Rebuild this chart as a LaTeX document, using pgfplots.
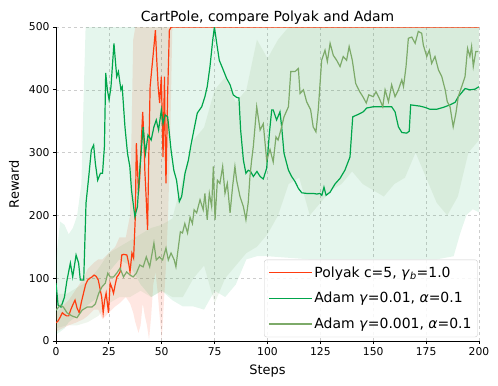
\documentclass[border=0pt]{standalone}
\usepackage{fontspec}
\setmainfont{DejaVu Sans}
\usepackage{pgfplots}
\pgfplotsset{compat=1.18}
\usepgfplotslibrary{fillbetween}

\definecolor{polyak}{RGB}{255,60,15}
\definecolor{adamA}{RGB}{0,165,75}
\definecolor{adamB}{RGB}{125,170,105}
\definecolor{gridc}{RGB}{205,205,205}

% Polyak c=5 mean
\pgfplotstableread{
x y
0 29
1 32
2 38
3 45
4 42
5 40
6 40
7 50
8 58
9 65
10 52
11 45
12 62
13 76
14 90
15 97
16 100
17 102
18 105
19 103
20 97
21 80
21.6 70
22.3 45
23 65
23.7 76
24.3 60
24.8 45
25.6 92
26.4 85
27.2 76
28 90
28.8 102
29.5 105
30.3 110
31.1 137
32 138
33.5 137
34.3 125
35 110
35.9 140
36.7 132
37.5 198
38 315
38.6 270
39 235
39.6 260
40.2 309
41 365
41.6 320
42 272
42.6 230
43.3 177
43.9 300
44.5 405
45.2 430
46 458
46.6 480
47 495
47.6 450
48.3 405
49 379
49.8 421
50.2 360
50.6 293
51.3 421
51.6 330
52 251
52.8 395
53.6 495
54.5 500
200 500
}\polyak

% Polyak band
\pgfplotstableread{
x lo hi
0 15 45
3 20 55
6 25 65
10 30 85
13 35 100
15 40 115
18 50 125
20 50 130
22 35 130
25 45 140
28 55 150
30 60 165
33 70 165
35 60 200
36.5 45 480
37.5 30 500
39 13 500
40 25 500
41 60 500
42 40 500
43 25 500
44 2 500
45 40 500
46 90 500
47 110 500
48 80 500
49 40 500
50 2 500
51 60 500
52 120 500
53 200 500
54 320 500
55 500 500
200 500 500
}\polyakband

% Adam gamma=0.01 mean
\pgfplotstableread{
x y
0 92
1 57
2.4 54
4 70
5.2 97
6.8 124
7.9 102
9.5 137
10.7 124
11.5 97
13.1 97
14.2 220
15.5 262
16.7 304
17.8 312
18.6 283
19.7 256
21 267
22 267
22.9 310
23.5 427
24.3 400
25.1 384
26 405
27.4 474
28.7 421
29.5 429
30.7 400
31.3 405
32.6 341
33.8 299
34.9 278
35.7 240
37.3 198
38.5 214
39.6 272
41.2 341
42.3 299
43.5 328
45 320
46.3 341
47.4 352
48.5 336
49.8 368
50.6 346
51.6 360
52.8 357
54.4 304
55.7 272
57 256
58.3 222
59.4 230
61 267
62.6 288
63.7 310
65.2 336
66.8 363
68.9 373
70.4 389
71.5 405
72.8 437
74.1 479
74.9 500
76 474
77.2 447
78.8 434
80.7 418
82.3 408
83.8 392
85.4 388
86.5 387
87.3 336
88.6 288
89.8 267
90.9 272
92 270
93.3 262
95 270
96.5 262
98 258
99.6 275
100.9 331
102 368
102.7 368
104.3 352
105.9 365
106.7 341
107.8 299
109.9 272
111.4 262
113 254
114.6 243
116.2 236
118.5 235
121.7 235
123.3 234
124.8 235
125.7 232
126.7 245
127.7 232
129.6 237
131.9 250
134.3 259
136.6 272
139 293
140.3 357
143 361
145.3 365
146.9 371
150 373
153.2 373
158.7 373
160.3 365
161.9 341
163.5 332
165.8 331
167 334
167.7 376
172.1 374
174.5 372
176.8 369
180 369
183.1 372
186.3 376
188.7 380
190.2 389
193.4 402
195.7 400
198.1 401
200 405
}\adamA

% Adam gamma=0.01 band
\pgfplotstableread{
x lo hi
0 10 130
2 15 190
4 20 185
6 30 170
8 35 180
10 40 200
12 45 250
13 50 380
14 55 500
16 60 500
20 70 500
25 110 500
30 130 500
35 120 500
40 90 500
45 70 500
50 80 500
55 65 500
60 55 500
65 55 500
70 50 500
75 80 500
80 70 500
85 90 500
90 130 500
95 135 500
100 135 500
120 130 500
150 130 500
180 130 500
188 135 500
191 170 500
194 200 500
197 210 500
200 205 500
}\adamAband

% Adam gamma=0.001 mean
\pgfplotstableread{
x y
0 49
2 57
3.5 54
5.2 45
7.5 40
9.9 37
12.3 49
14.7 54
17 54
18.6 59
20.2 76
21.7 86
23.3 92
24.5 108
25.6 102
27.2 102
28.7 108
30.3 116
31.9 102
33.4 110
35 105
36.5 102
38 108
39.6 121
41.2 118
42.7 134
44.3 118
46.3 156
47.4 129
48.9 134
50.4 129
52 148
53.1 129
54.4 140
55.9 129
56.7 118
57.5 140
58.8 174
59.8 172
60.9 187
62.2 172
63.4 197
64.5 187
65.3 209
66.5 204
68.1 225
69.6 209
70.4 235
71.5 193
72.5 235
73.6 214
74.4 278
75.2 193
76.3 256
77.5 251
78.8 278
79.9 235
81 251
82.3 204
83.5 246
84.6 278
85.4 256
87 230
88.6 214
89.8 193
90.9 221
91.7 262
92.5 288
93.3 310
94.9 373
96.5 336
98 346
99.6 288
101.2 305
102.7 285
104 325
105 320
106.7 341
107.8 357
109.9 373
111 429
113 429
114.6 434
115.4 394
117 400
118.5 381
120.4 368
121.6 341
122.9 333
124 368
125.6 447
127.2 463
128.3 445
129.6 474
131.1 455
132.7 447
134.3 437
135.8 453
137.4 447
138.6 469
140.1 447
141.7 410
143.6 397
145.1 389
146.7 379
147.9 392
150 389
151.3 397
152.9 386
154.5 373
155.6 400
157.2 381
158.7 408
160.3 389
161.9 400
163.5 416
164.3 405
165.5 437
166.6 482
168.2 484
169.8 474
171.3 493
172.9 490
173.7 471
175.3 453
176.5 463
177.6 442
179.2 453
180.8 432
182.4 421
184 400
185 381
186.3 373
187.8 341
189.1 363
190.2 389
191.8 405
193.4 421
194.6 466
195.7 453
196.5 469
197.3 437
198.5 461
199.7 461
}\adamB

% Adam gamma=0.001 band
\pgfplotstableread{
x lo hi
0 20 75
5 25 75
10 25 85
15 30 95
20 40 115
25 60 140
30 70 150
35 70 160
40 80 170
45 70 180
50 80 185
55 70 195
60 70 260
65 100 320
70 120 340
75 60 400
80 100 420
85 120 380
90 140 400
95 150 480
100 170 450
105 200 480
110 250 500
115 260 500
120 200 500
125 220 500
130 240 500
135 250 500
140 270 500
145 250 500
150 240 500
155 230 500
160 250 500
165 260 500
170 300 500
175 260 500
180 220 500
185 200 500
190 230 500
195 300 500
200 320 500
}\adamBband

\begin{document}
\begin{tikzpicture}
\begin{axis}[
  scale only axis,
  width=423bp, height=314bp,
  xmin=0, xmax=200, ymin=0, ymax=500,
  xtick={0,25,...,200}, ytick={0,100,...,500},
  axis x line*=bottom, axis y line*=left,
  axis line style={line width=0.8bp, black},
  tick align=outside, major tick length=3bp,
  tick style={line width=0.8bp, black},
  grid=major,
  major grid style={dashed, gridc, line width=0.6bp},
  ticklabel style={font=\fontsize{10.8}{12}\selectfont},
  /pgf/number format/assume math mode=true,
  title={CartPole, compare Polyak and Adam},
  title style={font=\fontsize{14}{16}\selectfont, yshift=-7bp},
  xlabel={Steps}, ylabel={Reward},
  label style={font=\fontsize{13}{15}\selectfont},
  xlabel style={yshift=-2bp},
  ylabel style={yshift=3bp},
  clip=true,
  legend style={at={(rel axis cs:0.997,0.012)}, anchor=south east,
    font=\fontsize{14}{16}\selectfont, draw=gridc, fill=white,
    fill opacity=0.85, text opacity=1, rounded corners=2.5bp,
    row sep=9.5bp, inner xsep=4bp, inner ysep=5bp},
  legend cell align=left,
  legend image code/.code={\draw[#1] (0bp,0bp) -- (30bp,0bp);
    \path (-6bp,0bp) -- (37bp,0bp);},
]
% bands
\addplot[name path=pl, draw=none, forget plot] table[x=x,y=lo]{\polyakband};
\addplot[name path=ph, draw=none, forget plot] table[x=x,y=hi]{\polyakband};
\addplot[polyak, fill opacity=0.12, draw=none, forget plot] fill between[of=pl and ph];
\addplot[name path=al, draw=none, forget plot] table[x=x,y=lo]{\adamAband};
\addplot[name path=ah, draw=none, forget plot] table[x=x,y=hi]{\adamAband};
\addplot[adamA, fill opacity=0.10, draw=none, forget plot] fill between[of=al and ah];
\addplot[name path=bl, draw=none, forget plot] table[x=x,y=lo]{\adamBband};
\addplot[name path=bh, draw=none, forget plot] table[x=x,y=hi]{\adamBband};
\addplot[adamB, fill opacity=0.12, draw=none, forget plot] fill between[of=bl and bh];
% means
\addplot[polyak, line width=1.2bp, no marks] table[x=x,y=y]{\polyak};
\addplot[adamA, line width=1.2bp, no marks] table[x=x,y=y]{\adamA};
\addplot[adamB, line width=1.2bp, no marks] table[x=x,y=y]{\adamB};
\legend{{Polyak c=5{,} \textit{γ}\textsubscript{\textit{b}}=1.0},
  {Adam \textit{γ}=0.01{,} \textit{α}=0.1},
  {Adam \textit{γ}=0.001{,} \textit{α}=0.1}}
\end{axis}
\pgfresetboundingbox
\path (current axis.south west) ++(-56bp,-45bp) rectangle ++(498bp,386bp);
\end{tikzpicture}
\end{document}
